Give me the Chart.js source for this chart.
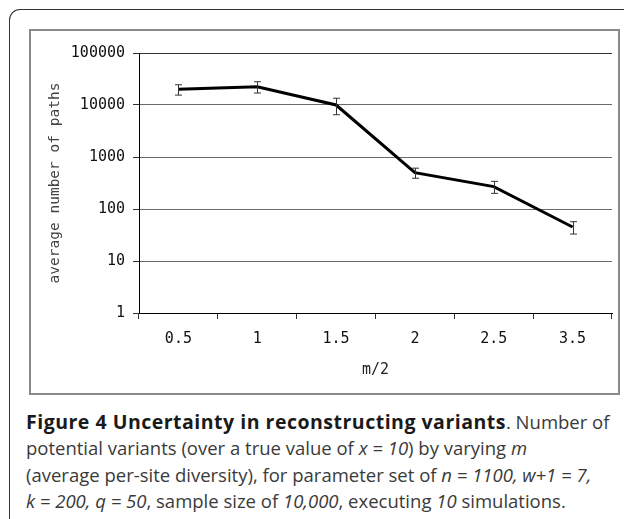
<!DOCTYPE html>
<html>
<head>
<meta charset="utf-8">
<script src="https://cdn.jsdelivr.net/npm/chart.js@4"></script>
<style>
  html, body { margin:0; padding:0; background:#fff; width:624px; height:519px; overflow:hidden; }
  #frame { position:absolute; left:9px; top:9px; width:700px; height:600px; border-top:1px solid #333; border-left:1px solid #333; border-top-left-radius:11px; }
  #box { position:absolute; left:29px; top:29px; width:587px; height:362px; border:2px solid #8a8a8a; }
  #box canvas { display:block; }
  #caption { position:absolute; left:26px; top:409px; font-family:"Open Sans", sans-serif; font-size:18.5px; line-height:26.3px; color:#3a3a3a; }
  #caption div { white-space:nowrap; }
  #caption b { color:#1a1a1a; font-size:19.5px; letter-spacing:0.5px; }
</style>
</head>
<body>
<div id="frame"></div>
<div id="box"><canvas id="c" width="587" height="362"></canvas></div>
<div id="caption">
  <div><b>Figure 4 Uncertainty in reconstructing variants</b>. Number of</div>
  <div>potential variants (over a true value of <i>x = 10</i>) by varying <i>m</i></div>
  <div>(average per-site diversity), for parameter set of <i>n = 1100, w+1 = 7,</i></div>
  <div><i>k = 200, q = 50</i>, sample size of <i>10,000</i>, executing <i>10</i> simulations.</div>
</div>
<script>
const categories = ["0.5", "1", "1.5", "2", "2.5", "3.5"];
const meanPaths = [20000, 22500, 10000, 500, 270, 45];
const errPaths = [4500, 5500, 3500, 110, 70, 12];
const yTickValues = [1, 10, 100, 1000, 10000, 100000];

const monoFont = { family: "'DejaVu Sans Mono', monospace", size: 15 };

const errorBars = {
  id: 'errorBars',
  afterDatasetsDraw(chart) {
    const meta = chart.getDatasetMeta(0);
    const ys = chart.scales.y;
    const ctx = chart.ctx;
    ctx.save();
    ctx.strokeStyle = '#333';
    ctx.lineWidth = 1;
    meta.data.forEach((pt, i) => {
      const x = Math.round(pt.x) + 0.5;
      const yt = ys.getPixelForValue(meanPaths[i] + errPaths[i]);
      const yb = ys.getPixelForValue(meanPaths[i] - errPaths[i]);
      ctx.beginPath();
      ctx.moveTo(x, yt); ctx.lineTo(x, yb);
      ctx.moveTo(x - 3.5, yt); ctx.lineTo(x + 3.5, yt);
      ctx.moveTo(x - 3.5, yb); ctx.lineTo(x + 3.5, yb);
      ctx.stroke();
    });
    ctx.restore();
  }
};

new Chart(document.getElementById('c'), {
  type: 'line',
  data: {
    labels: categories,
    datasets: [{
      data: meanPaths,
      borderColor: '#000',
      borderWidth: 3,
      pointRadius: 0,
      tension: 0,
      fill: false
    }]
  },
  options: {
    responsive: false,
    animation: false,
    devicePixelRatio: 1,
    layout: { padding: { top: 22, right: 6, left: 0, bottom: 0 } },
    plugins: { legend: { display: false }, tooltip: { enabled: false } },
    scales: {
      x: {
        type: 'category',
        offset: true,
        grid: { offset: true, drawOnChartArea: false, color: '#000', tickLength: 6, tickColor: '#333' },
        border: { color: '#000', width: 1 },
        ticks: { font: monoFont, color: '#111', padding: 11, maxRotation: 0 },
        title: { display: true, text: 'm/2', font: monoFont, color: '#222', padding: { top: 4, bottom: 14 } },
        afterFit(s) { s.height = 80; }
      },
      y: {
        type: 'logarithmic',
        min: 1,
        max: 100000,
        afterBuildTicks(s) { s.ticks = yTickValues.map(v => ({ value: v })); },
        grid: { color: (c) => c.index === yTickValues.length - 1 ? '#333' : '#6a6a6a', tickLength: 6, tickColor: '#333' },
        border: { color: '#000', width: 1 },
        ticks: { font: monoFont, color: '#111', padding: 8, callback: (v) => String(v) },
        title: { display: true, text: 'average number of paths', font: { family: "'DejaVu Sans Mono', monospace", size: 14.5 }, color: '#444', padding: { top: 16, bottom: 0 } },
        afterFit(s) { s.width = 108; }
      }
    }
  },
  plugins: [errorBars]
});
</script>
</body>
</html>
